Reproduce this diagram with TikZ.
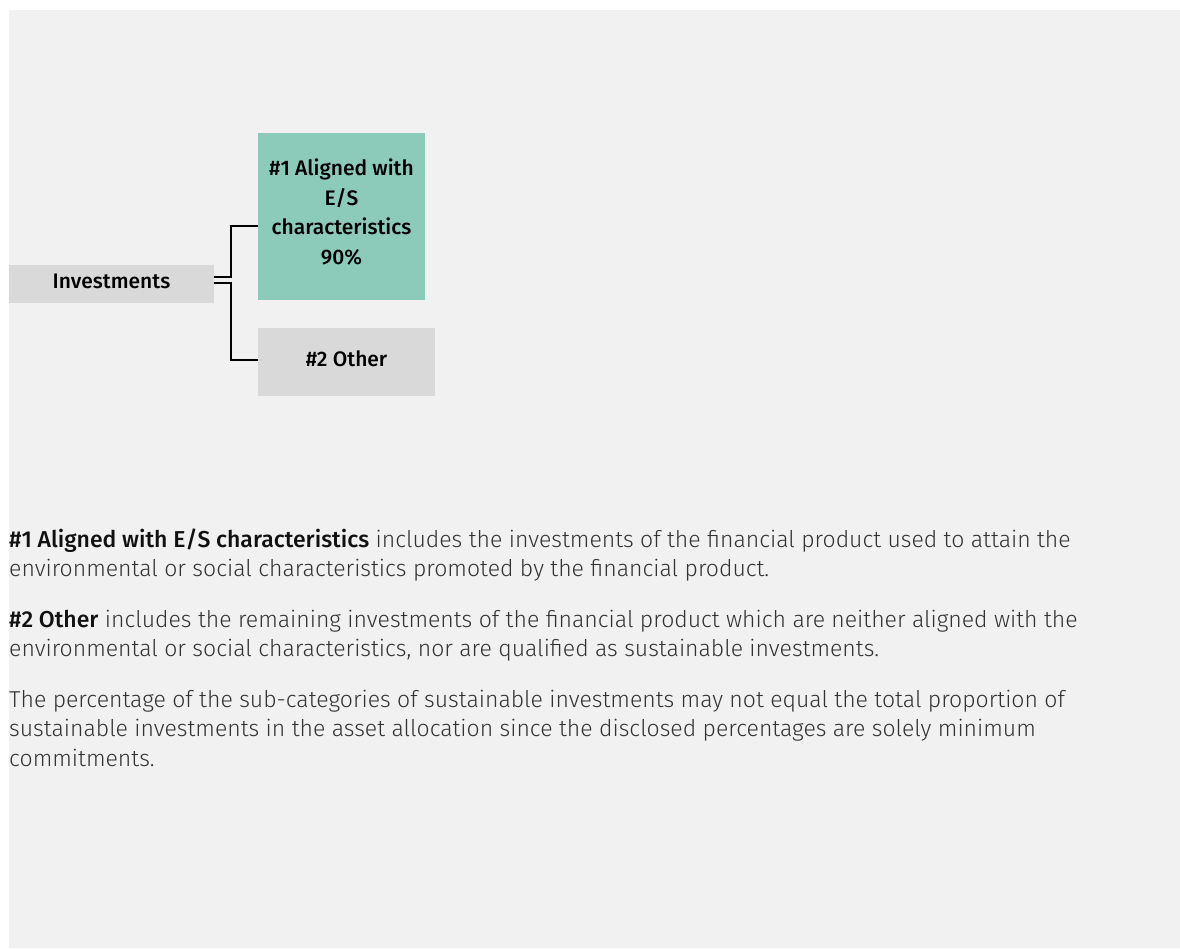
\documentclass[tikz,border=0pt]{standalone}
\usepackage{fontspec}
\setmainfont{Fira Sans}[UprightFont={* Light},BoldFont={* Medium}]
\definecolor{bgc}{HTML}{F1F1F1}
\definecolor{boxgray}{HTML}{D9D9D9}
\definecolor{boxgreen}{HTML}{8CCBBA}
\definecolor{bodytext}{HTML}{333333}
\definecolor{labeltext}{HTML}{111111}
\tikzset{
  catbox/.style={rectangle, inner sep=0pt, outer sep=0pt, align=center,
    font=\bfseries\fontsize{21}{29.5}\selectfont, text=black},
  conn/.style={draw=black, line width=1.8pt},
  bodyline/.style={anchor=base west, inner sep=0pt, text=bodytext,
    font=\fontsize{23}{29.5}\selectfont},
}
\newcommand{\lbl}[1]{{\bfseries\color{labeltext}#1}}
\newcommand{\lift}[2][3pt]{\raisebox{#1}[\height][\depth]{#2}}
\begin{document}
\begin{tikzpicture}[x=1pt,y=-1pt]
\useasboundingbox (0,0) rectangle (1180,948);
\fill[bgc] (9,10) rectangle (1180,948);
% boxes
\node[catbox, fill=boxgray, minimum width=205pt, minimum height=37.5pt] (inv) at (111.5,284) {\lift{Investments}};
\node[catbox, fill=boxgreen, minimum width=167pt, minimum height=166.5pt] (a1) at (341.5,216.25) {\lift[2pt]{\begin{tabular}{@{}c@{}}\#1 Aligned with\\E/S\\characteristics\\90\%\end{tabular}}};
\node[catbox, fill=boxgray, minimum width=177pt, minimum height=68pt] (o2) at (346.5,362) {\lift{\#2 Other}};
% connectors
\coordinate (jx) at (231,0);
\coordinate (u0) at ([yshift=6.7pt]inv.east);
\coordinate (u1) at ([yshift=-10pt]a1.west);
\coordinate (d0) at ([yshift=0.7pt]inv.east);
\coordinate (d1) at ([yshift=2pt]o2.west);
\draw[conn] (u0) -- (u0 -| jx) |- (u1);
\draw[conn] (d0) -- (d0 -| jx) |- (d1);
% text
\node[bodyline] (t1a) at (9,547) {\lbl{\#1 Aligned with E/S characteristics} includes the investments of the financial product used to attain the};
\node[bodyline] (t1b) at (9,576.5) {environmental or social characteristics promoted by the financial product.};
\node[bodyline] (t2a) at (9,627) {\lbl{\#2 Other} includes the remaining investments of the financial product which are neither aligned with the};
\node[bodyline] (t2b) at (9,656.5) {environmental or social characteristics, nor are qualified as sustainable investments.};
\node[bodyline] (t3a) at (9,707) {The percentage of the sub-categories of sustainable investments may not equal the total proportion of};
\node[bodyline] (t3b) at (9,736.5) {sustainable investments in the asset allocation since the disclosed percentages are solely minimum};
\node[bodyline] (t3c) at (9,766) {commitments.};
\end{tikzpicture}
\end{document}
